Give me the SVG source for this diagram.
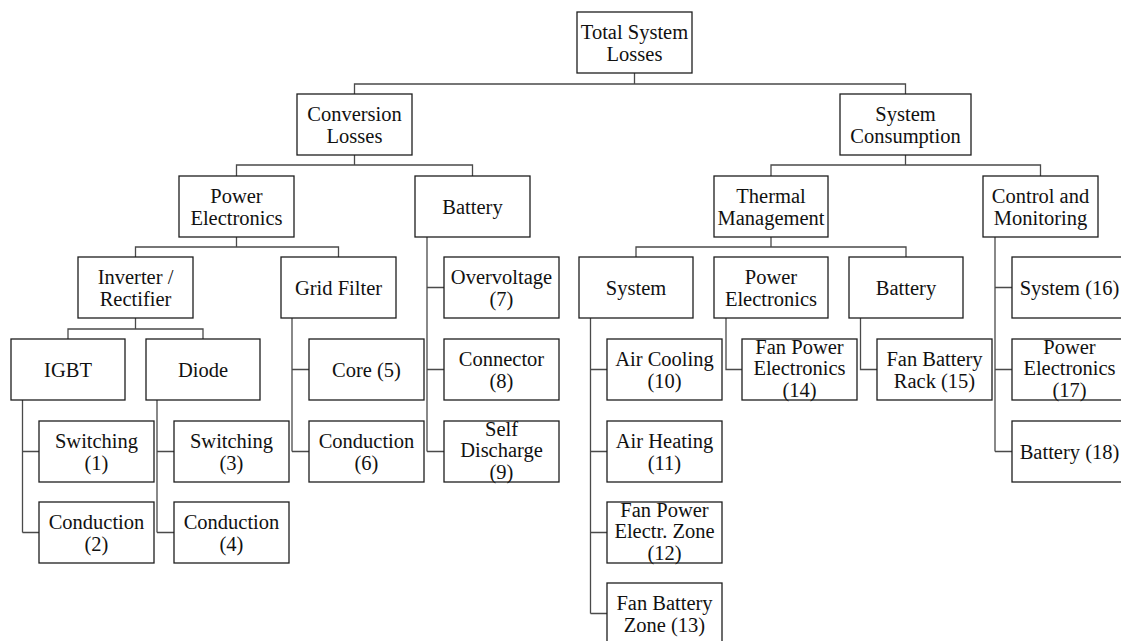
<svg xmlns="http://www.w3.org/2000/svg" width="1121" height="641" viewBox="0 0 1121 641" font-family="'Liberation Serif', Tinos, 'Times New Roman', Times, serif">
<style>
.n rect{fill:#fff;stroke:#1e1e1e;stroke-width:1.3}
.n text{font-family:'Liberation Serif', Tinos, 'Times New Roman', Times, serif;font-size:20.5px;fill:#111;text-anchor:middle}
#connectors path{fill:none;stroke:#4a4a4a;stroke-width:1.3}
</style>
<rect width="1121" height="641" fill="#fff"/>
<g id="connectors">
<path d="M354.5 94V84H905.5V94M634.5 73V84"/>
<path d="M354.5 155V165M236.5 176V165H472.5V176"/>
<path d="M905.5 155V165M771 176V165H1040.5V176"/>
<path d="M236.5 237V247M135.5 257V247H338.5V257"/>
<path d="M427 237V451.5M427 287.5H444M427 369.5H444M427 451.5H444"/>
<path d="M771 237V247M636 257V247H906V257"/>
<path d="M995 237V451.5M995 287.5H1012M995 369.5H1012M995 451.5H1012"/>
<path d="M135.5 318V329M68 339V329H203V339"/>
<path d="M292 318V451.5M292 369.5H309M292 451.5H309"/>
<path d="M22.5 400V532.5M22.5 451.5H39M22.5 532.5H39"/>
<path d="M157 400V532.5M157 451.5H174M157 532.5H174"/>
<path d="M590.5 318V613.5M590.5 369.5H607M590.5 451.5H607M590.5 532.5H607M590.5 613.5H607"/>
<path d="M726 318V369.5H742"/>
<path d="M860.5 318V369.5H877"/>
</g>
<g id="total" class="n"><rect x="577" y="12" width="115" height="61"/><text x="634.5" y="39">Total System</text><text x="634.5" y="61">Losses</text></g>
<g id="conversion" class="n"><rect x="297" y="94" width="115" height="61"/><text x="354.5" y="121">Conversion</text><text x="354.5" y="143">Losses</text></g>
<g id="consumption" class="n"><rect x="840" y="94" width="131" height="61"/><text x="905.5" y="121">System</text><text x="905.5" y="143">Consumption</text></g>
<g id="power-electronics" class="n"><rect x="179" y="176" width="115" height="61"/><text x="236.5" y="203">Power</text><text x="236.5" y="225">Electronics</text></g>
<g id="battery" class="n"><rect x="415" y="176" width="115" height="61"/><text x="472.5" y="213.5">Battery</text></g>
<g id="thermal" class="n"><rect x="714" y="176" width="114" height="61"/><text x="771" y="203">Thermal</text><text x="771" y="225">Management</text></g>
<g id="control" class="n"><rect x="983" y="176" width="115" height="61"/><text x="1040.5" y="203">Control and</text><text x="1040.5" y="225">Monitoring</text></g>
<g id="inverter" class="n"><rect x="78" y="257" width="115" height="61"/><text x="135.5" y="284">Inverter /</text><text x="135.5" y="306">Rectifier</text></g>
<g id="grid-filter" class="n"><rect x="281" y="257" width="115" height="61"/><text x="338.5" y="294.5">Grid Filter</text></g>
<g id="overvoltage" class="n"><rect x="444" y="257" width="115" height="61"/><text x="501.5" y="284">Overvoltage</text><text x="501.5" y="306">(7)</text></g>
<g id="connector" class="n"><rect x="444" y="339" width="115" height="61"/><text x="501.5" y="366">Connector</text><text x="501.5" y="388">(8)</text></g>
<g id="self-discharge" class="n"><rect x="444" y="421" width="115" height="61"/><text x="501.5" y="435.5">Self</text><text x="501.5" y="457">Discharge</text><text x="501.5" y="478.5">(9)</text></g>
<g id="tm-system" class="n"><rect x="579" y="257" width="114" height="61"/><text x="636" y="294.5">System</text></g>
<g id="tm-power-electronics" class="n"><rect x="714" y="257" width="114" height="61"/><text x="771" y="284">Power</text><text x="771" y="306">Electronics</text></g>
<g id="tm-battery" class="n"><rect x="849" y="257" width="114" height="61"/><text x="906" y="294.5">Battery</text></g>
<g id="system16" class="n"><rect x="1012" y="257" width="115" height="61"/><text x="1069.5" y="294.5">System (16)</text></g>
<g id="pe17" class="n"><rect x="1012" y="339" width="115" height="61"/><text x="1069.5" y="353.5">Power</text><text x="1069.5" y="375">Electronics</text><text x="1069.5" y="396.5">(17)</text></g>
<g id="battery18" class="n"><rect x="1012" y="421" width="115" height="61"/><text x="1069.5" y="458.5">Battery (18)</text></g>
<g id="igbt" class="n"><rect x="11" y="339" width="114" height="61"/><text x="68" y="376.5">IGBT</text></g>
<g id="diode" class="n"><rect x="146" y="339" width="114" height="61"/><text x="203" y="376.5">Diode</text></g>
<g id="core5" class="n"><rect x="309" y="339" width="115" height="61"/><text x="366.5" y="376.5">Core (5)</text></g>
<g id="conduction6" class="n"><rect x="309" y="421" width="115" height="61"/><text x="366.5" y="448">Conduction</text><text x="366.5" y="470">(6)</text></g>
<g id="switching1" class="n"><rect x="39" y="421" width="115" height="61"/><text x="96.5" y="448">Switching</text><text x="96.5" y="470">(1)</text></g>
<g id="conduction2" class="n"><rect x="39" y="502" width="115" height="61"/><text x="96.5" y="529">Conduction</text><text x="96.5" y="551">(2)</text></g>
<g id="switching3" class="n"><rect x="174" y="421" width="115" height="61"/><text x="231.5" y="448">Switching</text><text x="231.5" y="470">(3)</text></g>
<g id="conduction4" class="n"><rect x="174" y="502" width="115" height="61"/><text x="231.5" y="529">Conduction</text><text x="231.5" y="551">(4)</text></g>
<g id="air-cooling" class="n"><rect x="607" y="339" width="115" height="61"/><text x="664.5" y="366">Air Cooling</text><text x="664.5" y="388">(10)</text></g>
<g id="air-heating" class="n"><rect x="607" y="421" width="115" height="61"/><text x="664.5" y="448">Air Heating</text><text x="664.5" y="470">(11)</text></g>
<g id="fan12" class="n"><rect x="607" y="502" width="115" height="61"/><text x="664.5" y="516.5">Fan Power</text><text x="664.5" y="538">Electr. Zone</text><text x="664.5" y="559.5">(12)</text></g>
<g id="fan13" class="n"><rect x="607" y="583" width="115" height="61"/><text x="664.5" y="610">Fan Battery</text><text x="664.5" y="632">Zone (13)</text></g>
<g id="fan14" class="n"><rect x="742" y="339" width="115" height="61"/><text x="799.5" y="353.5">Fan Power</text><text x="799.5" y="375">Electronics</text><text x="799.5" y="396.5">(14)</text></g>
<g id="fan15" class="n"><rect x="877" y="339" width="115" height="61"/><text x="934.5" y="366">Fan Battery</text><text x="934.5" y="388">Rack (15)</text></g>
</svg>
